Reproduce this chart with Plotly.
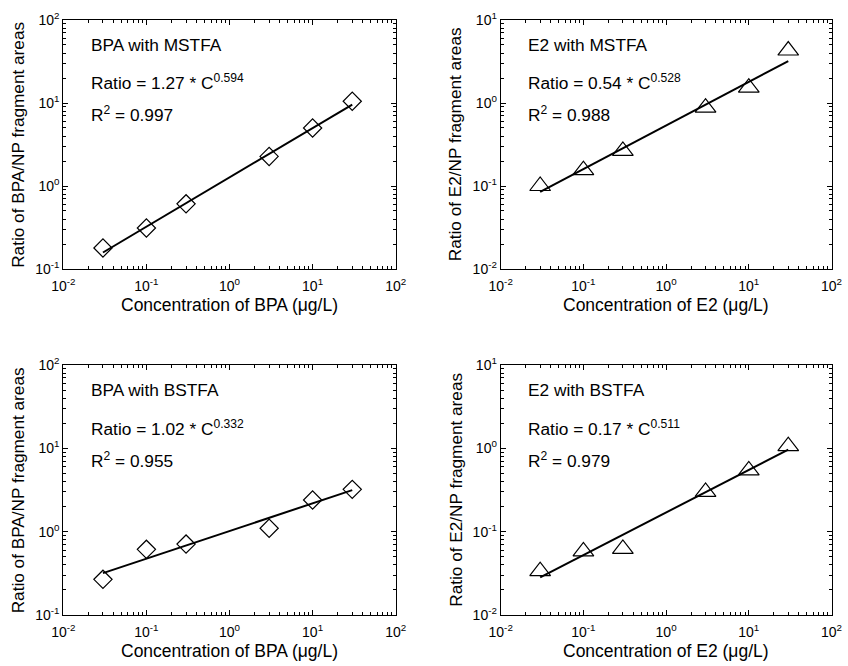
import plotly.graph_objects as go

# ---- data ----
conc = [0.03, 0.1, 0.3, 3, 10, 30]

bpa_mstfa = [0.179, 0.312, 0.61, 2.27, 5.0, 10.5]
e2_mstfa = [0.10, 0.155, 0.265, 0.88, 1.53, 4.29]
bpa_bstfa = [0.268, 0.614, 0.71, 1.10, 2.40, 3.22]
e2_bstfa = [0.0336, 0.058, 0.062, 0.30, 0.543, 1.06]

fit_x = [0.03, 30]
fit_bpa_mstfa = [0.158, 9.57]
fit_e2_mstfa = [0.0848, 3.20]
fit_bpa_bstfa = [0.318, 3.15]
fit_e2_bstfa = [0.0283, 0.967]

panel_names = ["BPA with MSTFA", "E2 with MSTFA", "BPA with BSTFA", "E2 with BSTFA"]
panel_eqs = ["Ratio = 1.27 * C<sup>0.594</sup>", "Ratio = 0.54 * C<sup>0.528</sup>",
             "Ratio = 1.02 * C<sup>0.332</sup>", "Ratio = 0.17 * C<sup>0.511</sup>"]
panel_r2 = ["R<sup>2</sup> = 0.997", "R<sup>2</sup> = 0.988",
            "R<sup>2</sup> = 0.955", "R<sup>2</sup> = 0.979"]

x_ticks = [0.01, 0.1, 1, 10, 100]
x_ticktext = ["10<sup>-2</sup>", "10<sup>-1</sup>", "10<sup>0</sup>", "10<sup>1</sup>", "10<sup>2</sup>"]
y_ticks_bpa = [0.1, 1, 10, 100]
y_ticktext_bpa = ["10<sup>-1</sup>", "10<sup>0</sup>", "10<sup>1</sup>", "10<sup>2</sup>"]
y_ticks_e2 = [0.01, 0.1, 1, 10]
y_ticktext_e2 = ["10<sup>-2</sup>", "10<sup>-1</sup>", "10<sup>0</sup>", "10<sup>1</sup>"]

x_titles = ["Concentration of BPA (μg/L)", "Concentration of E2 (μg/L)",
            "Concentration of BPA (μg/L)", "Concentration of E2 (μg/L)"]
y_titles = ["Ratio of BPA/NP fragment areas", "Ratio of E2/NP fragment areas",
            "Ratio of BPA/NP fragment areas", "Ratio of E2/NP fragment areas"]

# ---- layout ----
W, H = 848, 666
FONT = "Arial, Liberation Sans, sans-serif"

panels = [
    dict(data=bpa_mstfa, fit=fit_bpa_mstfa, sym="diamond-open", size=14,
         yt=y_ticks_bpa, ytt=y_ticktext_bpa, yr=[-1, 2], px=(63.3, 395.7), py=(20, 269)),
    dict(data=e2_mstfa, fit=fit_e2_mstfa, sym="triangle-up-open", size=18,
         yt=y_ticks_e2, ytt=y_ticktext_e2, yr=[-2, 1], px=(500.7, 831.5), py=(20, 269)),
    dict(data=bpa_bstfa, fit=fit_bpa_bstfa, sym="diamond-open", size=14,
         yt=y_ticks_bpa, ytt=y_ticktext_bpa, yr=[-1, 2], px=(63.3, 395.7), py=(365, 615)),
    dict(data=e2_bstfa, fit=fit_e2_bstfa, sym="triangle-up-open", size=18,
         yt=y_ticks_e2, ytt=y_ticktext_e2, yr=[-2, 1], px=(500.7, 831.5), py=(365, 615)),
]

def minor_vals(lo, hi):
    vals = []
    for e in range(lo, hi):
        for m in range(2, 10):
            vals.append(m * 10 ** e)
    return vals

fig = go.Figure()
annotations = []
layout_axes = {}

for i, p in enumerate(panels):
    n = i + 1
    xa = "x" if n == 1 else f"x{n}"
    ya = "y" if n == 1 else f"y{n}"
    xkey = "xaxis" if n == 1 else f"xaxis{n}"
    ykey = "yaxis" if n == 1 else f"yaxis{n}"

    fig.add_trace(go.Scatter(
        x=conc, y=p["data"], mode="markers", xaxis=xa, yaxis=ya,
        marker=dict(symbol=p["sym"], size=p["size"], color="black", line=dict(width=1.2, color="black")),
        showlegend=False))
    fig.add_trace(go.Scatter(
        x=fit_x, y=p["fit"], mode="lines", xaxis=xa, yaxis=ya,
        line=dict(color="black", width=2), showlegend=False))

    x0, x1 = p["px"]
    y0, y1 = p["py"]
    common = dict(type="log", showline=True, linecolor="black", linewidth=1, mirror="ticks",
                  ticks="inside", ticklen=5, tickwidth=1, tickcolor="black",
                  showgrid=False, zeroline=False, automargin=False,
                  tickfont=dict(family=FONT, size=14, color="black"))
    layout_axes[xkey] = dict(common, domain=[x0 / W, x1 / W], range=[-2, 2],
                             tickmode="array", tickvals=x_ticks, ticktext=x_ticktext,
                             anchor=ya, ticklabelstandoff=4,
                             minor=dict(ticks="inside", ticklen=3, tickwidth=1, tickcolor="black",
                                        tickmode="array", tickvals=minor_vals(-2, 2), showgrid=False))
    layout_axes[ykey] = dict(common, domain=[1 - y1 / H, 1 - y0 / H], range=p["yr"],
                             tickmode="array", tickvals=p["yt"], ticktext=p["ytt"],
                             anchor=xa,
                             minor=dict(ticks="inside", ticklen=3, tickwidth=1, tickcolor="black",
                                        tickmode="array", tickvals=minor_vals(p["yr"][0], p["yr"][1]),
                                        showgrid=False))

    txt_font = dict(family=FONT, size=17.3, color="black")
    for text, yy in [(panel_names[i], 0.90), (panel_eqs[i], 0.75), (panel_r2[i], 0.622)]:
        annotations.append(dict(text=text, xref=f"{xa} domain", yref=f"{ya} domain",
                                x=0.077, y=yy, xanchor="left", yanchor="middle",
                                showarrow=False, font=txt_font))
    # axis titles
    annotations.append(dict(text=x_titles[i], xref="paper", yref="paper",
                            x=(x0 + x1) / 2 / W, y=1 - (y1 + 36) / H,
                            xanchor="center", yanchor="middle", showarrow=False,
                            font=dict(family=FONT, size=17.5, color="black")))
    annotations.append(dict(text=y_titles[i], xref="paper", yref="paper",
                            x=(x0 - 45) / W, y=1 - (y0 + y1) / 2 / H, textangle=-90,
                            xanchor="center", yanchor="middle", showarrow=False,
                            font=dict(family=FONT, size=17.2, color="black")))

fig.update_layout(
    width=W, height=H, margin=dict(l=0, r=0, t=0, b=0),
    paper_bgcolor="white", plot_bgcolor="white",
    annotations=annotations, font=dict(family=FONT, color="black"),
    **layout_axes)

fig.write_html("out.html")
